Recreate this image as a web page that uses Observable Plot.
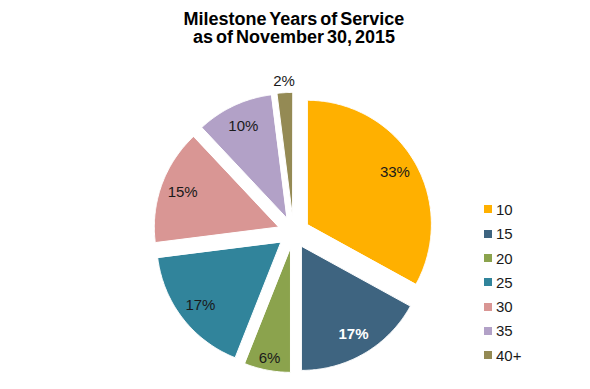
<!DOCTYPE html>
<html>
<head>
<meta charset="utf-8">
<script src="https://cdn.jsdelivr.net/npm/d3@7"></script>
<script src="https://cdn.jsdelivr.net/npm/@observablehq/plot@0.6"></script>
<style>
  html, body { margin: 0; padding: 0; background: #fff; }
  #wrap { position: relative; width: 590px; height: 389px; overflow: hidden; font-family: Arial, "Liberation Sans", sans-serif; }
  #title { position: absolute; left: -1px; top: 9.5px; width: 590px; text-align: center; font-weight: bold; font-size: 18px; line-height: 18.5px; color: #000; word-spacing: -2px; }
  #legend { position: absolute; left: 484px; top: 197.3px; }
  .row { display: flex; align-items: center; height: 24.3px; font-size: 15px; color: #1a1a1a; }
  .sw { width: 8px; height: 8px; margin-right: 4px; }
  #chart { position: absolute; left: 0; top: 0; }
</style>
</head>
<body>
<div id="wrap">
  <div id="chart"></div>
  <div id="title">Milestone Years of Service<br>as of November 30, 2015</div>
  <div id="legend"></div>
</div>
<script>
// Data
const categories = ["10", "15", "20", "25", "30", "35", "40+"];
const shares = [33, 17, 6, 17, 15, 10, 2];
const palette = ["#FFB000", "#3E6480", "#8BA34D", "#31849B", "#D99694", "#B2A1C7", "#948A54"];

// Geometry derived from data (clockwise from 12 o'clock, exploded slices)
const total = d3.sum(shares);
const explode = 0.13;
let acc = 0;
const slices = categories.map((c, i) => {
  const a0 = acc / total * 2 * Math.PI;
  acc += shares[i];
  const a1 = acc / total * 2 * Math.PI;
  const mid = (a0 + a1) / 2;
  return {key: c, v: shares[i], a0, a1, mid, ox: explode * Math.sin(mid), oy: explode * Math.cos(mid)};
});
const pts = [];
for (const s of slices) {
  pts.push({key: s.key, x: s.ox, y: s.oy});
  const n = Math.max(2, Math.ceil((s.a1 - s.a0) / 0.01));
  for (let k = 0; k <= n; ++k) {
    const a = s.a0 + (s.a1 - s.a0) * k / n;
    pts.push({key: s.key, x: s.ox + Math.sin(a), y: s.oy + Math.cos(a)});
  }
}
const labelR = s => s.v / total < 0.03 ? 1.09 : s.v / total < 0.08 ? 0.9 : 0.82;
const dark = slices.filter(s => s.key === "15");
const light = slices.filter(s => s.key !== "15");
const lx = s => s.ox + labelR(s) * Math.sin(s.mid);
const ly = s => s.oy + labelR(s) * Math.cos(s.mid);

const cx = 293, cy = 232, R = 124;
const chart = Plot.plot({
  width: 590,
  height: 389,
  margin: 0,
  style: {fontFamily: 'Arial, "Liberation Sans", sans-serif', background: "transparent"},
  x: {domain: [-1, 1], range: [cx - R, cx + R], axis: null},
  y: {domain: [-1, 1], range: [cy + R, cy - R], axis: null},
  color: {domain: categories, range: palette},
  marks: [
    Plot.line(pts, {x: "x", y: "y", z: "key", fill: "key", stroke: "white", strokeWidth: 1, curve: "linear-closed"}),
    Plot.text(light, {x: lx, y: ly, text: s => s.v + "%", fontSize: 15, fill: "#1a1a1a"}),
    Plot.text(dark, {x: lx, y: ly, text: s => s.v + "%", fontSize: 15, fill: "#ffffff", fontWeight: "bold"})
  ]
});
document.getElementById("chart").appendChild(chart);

// Legend from the chart's color scale
const color = chart.scale("color");
const leg = d3.select("#legend");
categories.forEach((c, i) => {
  const row = leg.append("div").attr("class", "row");
  row.append("div").attr("class", "sw").style("background", color.range[i]);
  row.append("span").text(c);
});
</script>
</body>
</html>
